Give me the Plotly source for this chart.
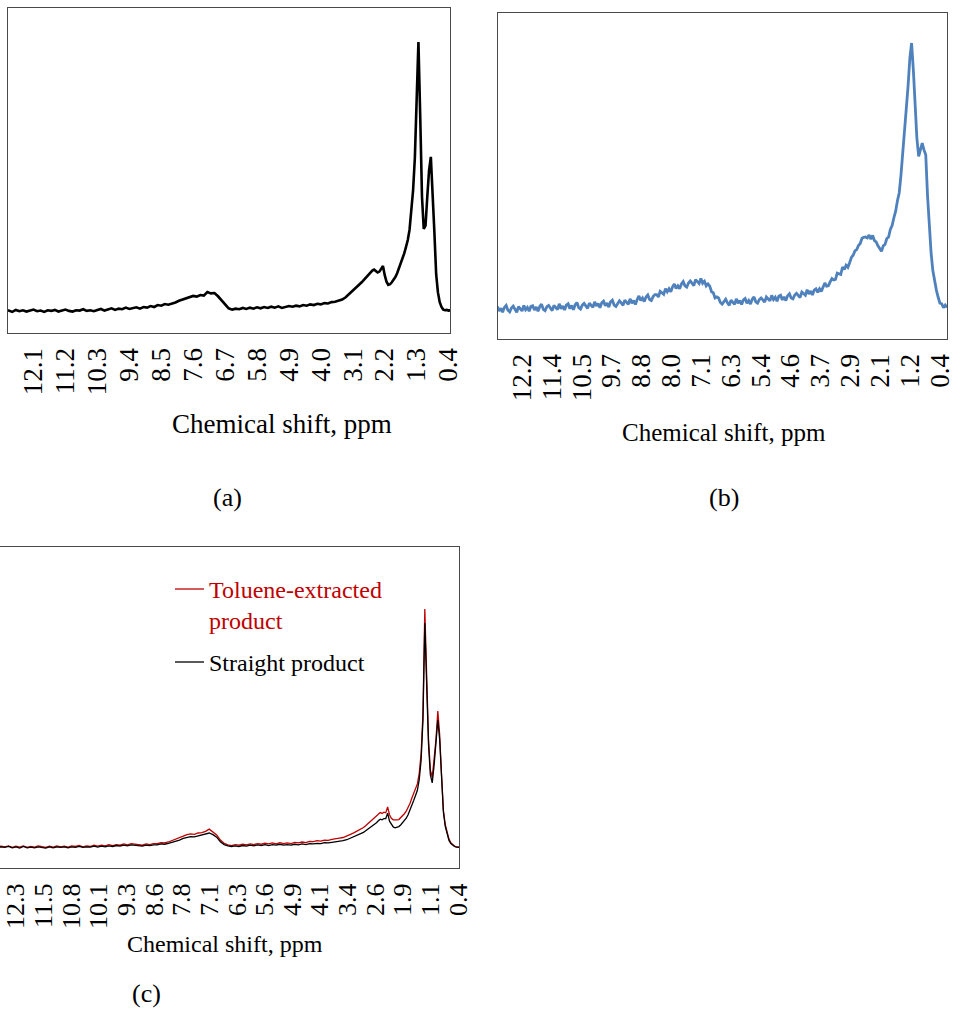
import numpy as np
import plotly.graph_objects as go

# ---------------------------------------------------------------------------
# 1H NMR spectra: intensity (arbitrary units, 0-100) vs chemical shift (ppm)
# ---------------------------------------------------------------------------
shift_ppm = [
    12.9, 12.8, 12.7, 12.6, 12.5, 12.4, 12.3, 12.2, 12.1, 12.0,
    11.9, 11.8, 11.7, 11.6, 11.5, 11.4, 11.3, 11.2, 11.1, 11.0,
    10.9, 10.8, 10.7, 10.6, 10.5, 10.4, 10.3, 10.2, 10.1, 10.0,
    9.9, 9.8, 9.7, 9.6, 9.5, 9.4, 9.3, 9.2, 9.1, 9.0,
    8.9, 8.8, 8.7, 8.6, 8.5, 8.4, 8.3, 8.2, 8.1, 8.0,
    7.9, 7.8, 7.7, 7.6, 7.5, 7.4, 7.3, 7.2, 7.1, 7.0,
    6.9, 6.8, 6.7, 6.6, 6.5, 6.4, 6.3, 6.2, 6.1, 6.0,
    5.9, 5.8, 5.7, 5.6, 5.5, 5.4, 5.3, 5.2, 5.1, 5.0,
    4.9, 4.8, 4.7, 4.6, 4.5, 4.4, 4.3, 4.2, 4.1, 4.0,
    3.9, 3.8, 3.7, 3.6, 3.5, 3.4, 3.3, 3.2, 3.1, 3.0,
    2.95, 2.9, 2.85, 2.8, 2.75, 2.7, 2.65, 2.6, 2.55, 2.5,
    2.45, 2.4, 2.35, 2.3, 2.25, 2.2, 2.15, 2.1, 2.05, 2.0,
    1.95, 1.9, 1.85, 1.8, 1.75, 1.7, 1.65, 1.6, 1.55, 1.5,
    1.45, 1.4, 1.35, 1.3, 1.25, 1.2, 1.15, 1.1, 1.05, 1.0,
    0.95, 0.9, 0.85, 0.8, 0.75, 0.7, 0.65, 0.6, 0.55, 0.5,
    0.45, 0.4, 0.35, 0.3, 0.25, 0.2,
]

# (a) product spectrum
intensity_a = [
    7.0, 6.9, 6.5, 7.1, 6.7, 7.0, 6.6, 6.9, 7.2, 6.7,
    6.9, 6.5, 7.0, 6.8, 7.1, 6.6, 6.9, 7.2, 6.8, 6.6,
    7.0, 6.9, 7.3, 6.8, 7.0, 6.7, 7.1, 7.4, 6.9, 7.2,
    7.6, 7.1, 7.5, 7.3, 7.8, 7.4, 7.7, 7.9, 7.5, 8.0,
    7.8, 8.3, 8.0, 8.6, 8.4, 8.9, 8.7, 9.0, 9.4, 9.9,
    10.3, 10.6, 11.0, 11.4, 11.2, 11.7, 11.5, 12.6, 12.2, 12.3,
    11.3, 10.0, 8.7, 7.6, 7.2, 7.5, 7.3, 7.7, 7.4, 7.8,
    7.5, 7.9, 7.6, 8.0, 7.7, 8.1, 7.8, 8.2, 7.7, 8.0,
    8.3, 8.1, 8.4, 8.2, 8.6, 8.4, 8.8, 8.6, 9.0, 8.8,
    9.2, 9.1, 9.5, 9.6, 9.9, 10.3, 11.0, 12.0, 13.0, 13.8,
    14.3, 14.9, 15.6, 16.2, 16.8, 17.3, 18.2, 18.8, 19.2, 19.5,
    19.0, 18.6, 18.9, 19.8, 20.6, 17.8, 15.8, 14.8, 15.0, 15.6,
    16.3, 17.2, 18.4, 19.8, 21.1, 22.6, 24.5, 26.5, 28.6, 31.8,
    37.5, 44.0, 54.0, 72.0, 89.5, 67.0, 42.0, 32.0, 33.0, 42.0,
    50.0, 54.2, 44.0, 31.0, 18.0, 12.5, 9.5, 8.0, 7.2, 7.0,
    7.1, 6.9, 7.0, 7.1, 6.9, 7.0,
]

# (b) product spectrum, recorded on a denser shift grid
shift_b_ppm = [
    12.9, 12.85, 12.8, 12.75, 12.7, 12.65, 12.6, 12.55, 12.5, 12.45,
    12.4, 12.35, 12.3, 12.25, 12.2, 12.15, 12.1, 12.05, 12.0, 11.95,
    11.9, 11.85, 11.8, 11.75, 11.7, 11.65, 11.6, 11.55, 11.5, 11.45,
    11.4, 11.35, 11.3, 11.25, 11.2, 11.15, 11.1, 11.05, 11.0, 10.95,
    10.9, 10.85, 10.8, 10.75, 10.7, 10.65, 10.6, 10.55, 10.5, 10.45,
    10.4, 10.35, 10.3, 10.25, 10.2, 10.15, 10.1, 10.05, 10.0, 9.95,
    9.9, 9.85, 9.8, 9.75, 9.7, 9.65, 9.6, 9.55, 9.5, 9.45,
    9.4, 9.35, 9.3, 9.25, 9.2, 9.15, 9.1, 9.05, 9.0, 8.95,
    8.9, 8.85, 8.8, 8.75, 8.7, 8.65, 8.6, 8.55, 8.5, 8.45,
    8.4, 8.35, 8.3, 8.25, 8.2, 8.15, 8.1, 8.05, 8.0, 7.95,
    7.9, 7.85, 7.8, 7.75, 7.7, 7.65, 7.6, 7.55, 7.5, 7.45,
    7.4, 7.35, 7.3, 7.25, 7.2, 7.15, 7.1, 7.05, 7.0, 6.95,
    6.9, 6.85, 6.8, 6.75, 6.7, 6.65, 6.6, 6.55, 6.5, 6.45,
    6.4, 6.35, 6.3, 6.25, 6.2, 6.15, 6.1, 6.05, 6.0, 5.95,
    5.9, 5.85, 5.8, 5.75, 5.7, 5.65, 5.6, 5.55, 5.5, 5.45,
    5.4, 5.35, 5.3, 5.25, 5.2, 5.15, 5.1, 5.05, 5.0, 4.95,
    4.9, 4.85, 4.8, 4.75, 4.7, 4.65, 4.6, 4.55, 4.5, 4.45,
    4.4, 4.35, 4.3, 4.25, 4.2, 4.15, 4.1, 4.05, 4.0, 3.95,
    3.9, 3.85, 3.8, 3.75, 3.7, 3.65, 3.6, 3.55, 3.5, 3.45,
    3.4, 3.35, 3.3, 3.25, 3.2, 3.15, 3.1, 3.05, 3.0,
    2.95, 2.9, 2.85, 2.8, 2.75, 2.7, 2.65, 2.6, 2.55, 2.5,
    2.45, 2.4, 2.35, 2.3, 2.25, 2.2, 2.15, 2.1, 2.05, 2.0,
    1.95, 1.9, 1.85, 1.8, 1.75, 1.7, 1.65, 1.6, 1.55, 1.5,
    1.45, 1.4, 1.35, 1.3, 1.25, 1.2, 1.15, 1.1, 1.05, 1.0,
    0.95, 0.9, 0.85, 0.8, 0.75, 0.7, 0.65, 0.6, 0.55, 0.5,
    0.45, 0.4, 0.35, 0.3, 0.25, 0.2,
]

intensity_b = [
    10.0, 8.6, 9.4, 8.2, 9.7, 10.3, 8.8, 8.3, 9.5, 10.1,
    9.1, 8.2, 9.9, 9.3, 8.6, 10.3, 9.0, 9.7, 8.5, 10.0,
    10.2, 8.9, 9.8, 8.5, 10.0, 10.7, 9.1, 8.7, 9.9, 10.3,
    9.6, 8.7, 10.3, 9.8, 9.0, 10.8, 9.3, 10.1, 8.9, 10.4,
    10.8, 9.3, 10.3, 9.0, 10.5, 11.2, 9.6, 9.2, 10.4, 10.9,
    10.2, 9.4, 11.0, 10.4, 9.7, 11.4, 10.1, 10.9, 9.6, 11.1,
    11.6, 10.2, 11.0, 9.8, 11.4, 11.9, 10.4, 10.0, 11.1, 11.7,
    11.1, 10.3, 11.9, 11.3, 10.6, 12.3, 11.0, 11.8, 10.6, 12.1,
    13.2, 11.8, 12.6, 11.5, 12.9, 13.5, 12.1, 11.8, 13.0, 13.6,
    13.6, 12.9, 14.6, 14.2, 13.7, 15.4, 14.5, 15.4, 14.5, 16.0,
    16.9, 15.5, 16.3, 15.4, 16.9, 17.6, 16.3, 15.9, 17.2, 17.8,
    17.1, 16.4, 18.2, 17.6, 17.0, 18.6, 17.1, 17.7, 16.3, 16.9,
    16.2, 14.5, 14.2, 12.6, 12.9, 12.6, 11.2, 10.7, 11.6, 12.2,
    11.1, 10.3, 11.9, 11.3, 10.6, 12.3, 11.0, 11.8, 10.6, 12.0,
    12.4, 11.0, 11.8, 10.7, 12.2, 12.9, 11.4, 11.0, 12.1, 12.6,
    11.9, 11.3, 12.9, 12.3, 11.7, 13.4, 12.1, 12.8, 11.6, 13.1,
    13.4, 12.0, 12.9, 11.8, 13.3, 13.9, 12.6, 12.3, 13.5, 14.0,
    13.3, 12.7, 14.4, 13.9, 13.4, 15.1, 13.8, 14.7, 13.5, 15.0,
    15.4, 14.3, 15.4, 14.6, 16.2, 17.2, 16.2, 16.3, 17.5, 18.5,
    18.1, 18.3, 20.2, 20.0, 19.8, 22.1, 21.3, 22.6, 22.0,
    23.4, 25.0, 25.7, 27.0, 27.4, 28.7, 29.3, 30.9, 31.2, 31.3,
    31.0, 31.9, 30.6, 31.8, 30.2, 29.8, 28.6, 27.9, 26.9, 28.6,
    29.0, 30.8, 31.3, 33.6, 34.8, 37.2, 39.2, 42.4, 44.8, 50.3,
    57.0, 62.5, 70.0, 77.5, 86.0, 90.8, 82.5, 72.4, 61.5, 56.0,
    58.5, 60.1, 58.0, 56.5, 44.0, 33.5, 26.5, 21.0, 17.5, 15.0,
    12.8, 11.0, 10.8, 9.6, 10.4, 9.7,
]

# (c) toluene-extracted product vs straight product
intensity_toluene = [
    6.7, 6.5, 6.8, 6.6, 6.9, 6.4, 6.8, 6.5, 6.9, 6.4,
    6.7, 6.5, 6.9, 6.6, 6.4, 6.8, 6.5, 6.9, 6.6, 6.8,
    6.5, 6.9, 6.7, 7.0, 6.6, 6.9, 6.7, 7.1, 6.8, 7.1,
    6.9, 7.3, 7.0, 7.3, 7.1, 7.5, 7.2, 7.6, 7.4, 7.3,
    7.1, 7.5, 7.3, 7.6, 7.6, 7.9, 7.8, 8.1, 8.5, 8.9,
    9.3, 9.9, 10.4, 10.6, 10.5, 10.9, 11.0, 11.4, 12.1, 11.3,
    10.3, 8.7, 7.7, 7.2, 7.0, 7.3, 7.1, 7.4, 7.2, 7.5,
    7.3, 7.6, 7.4, 7.7, 7.5, 7.8, 7.5, 7.9, 7.6, 7.8,
    7.6, 8.0, 7.8, 8.1, 7.9, 8.3, 8.2, 8.5, 8.4, 8.7,
    8.6, 8.9, 9.0, 9.3, 9.5, 9.9, 10.5, 11.0, 11.6, 12.3,
    12.6, 13.1, 13.6, 14.2, 14.8, 15.3, 15.8, 16.2, 16.8, 17.3,
    17.0, 17.4, 17.2, 19.0, 16.6, 15.5, 15.0, 14.9, 15.0, 15.1,
    15.6, 16.2, 16.9, 17.7, 18.8, 20.1, 21.7, 23.4, 24.8, 26.2,
    29.5, 35.5, 48.0, 80.7, 60.0, 40.0, 30.5, 28.3, 34.0, 40.0,
    48.9, 41.5, 29.0, 18.0, 13.5, 10.9, 9.0, 7.9, 7.2, 6.8,
    6.6, 6.5, 6.6, 6.5, 6.6, 6.5,
]

intensity_straight = [
    6.5, 6.3, 6.6, 6.4, 6.7, 6.3, 6.6, 6.2, 6.7, 6.3,
    6.5, 6.3, 6.6, 6.4, 6.2, 6.6, 6.3, 6.6, 6.4, 6.6,
    6.3, 6.6, 6.4, 6.7, 6.4, 6.6, 6.5, 6.8, 6.5, 6.8,
    6.6, 6.9, 6.7, 7.0, 6.8, 7.1, 6.9, 7.2, 7.0, 6.9,
    6.8, 7.1, 7.0, 7.2, 7.2, 7.5, 7.4, 7.7, 8.0, 8.4,
    8.7, 9.2, 9.6, 9.8, 9.7, 10.0, 10.1, 10.4, 10.9, 10.4,
    9.6, 8.2, 7.3, 6.9, 6.7, 6.9, 6.7, 7.0, 6.8, 7.1,
    6.9, 7.2, 7.0, 7.3, 7.0, 7.3, 7.1, 7.4, 7.1, 7.3,
    7.1, 7.4, 7.2, 7.5, 7.3, 7.6, 7.5, 7.7, 7.6, 7.9,
    7.8, 8.0, 8.1, 8.3, 8.5, 8.8, 9.3, 9.7, 10.2, 10.8,
    11.1, 11.5, 11.9, 12.4, 12.9, 13.3, 13.7, 14.1, 14.7, 15.2,
    15.0, 15.4, 15.4, 17.1, 14.6, 13.5, 12.8, 12.5, 12.6, 12.9,
    13.4, 14.0, 14.7, 15.5, 16.6, 17.9, 19.4, 21.0, 22.6, 24.2,
    27.5, 33.5, 46.0, 76.3, 57.0, 38.5, 29.0, 26.5, 32.0, 38.5,
    46.1, 40.0, 28.0, 17.5, 13.0, 10.5, 8.6, 7.6, 7.0, 6.7,
    6.5, 6.4, 6.5, 6.4, 6.5, 6.4,
]

for series in (intensity_a, intensity_toluene, intensity_straight):
    assert len(series) == len(shift_ppm)
assert len(intensity_b) == len(shift_b_ppm)

# Tick labels of each shift axis
ticks_a = ["12.1", "11.2", "10.3", "9.4", "8.5", "7.6", "6.7",
           "5.8", "4.9", "4.0", "3.1", "2.2", "1.3", "0.4"]
ticks_b = ["12.2", "11.4", "10.5", "9.7", "8.8", "8.0", "7.1", "6.3",
           "5.4", "4.6", "3.7", "2.9", "2.1", "1.2", "0.4"]
ticks_c = ["12.3", "11.5", "10.8", "10.1", "9.3", "8.6", "7.8", "7.1", "6.3",
           "5.6", "4.9", "4.1", "3.4", "2.6", "1.9", "1.1", "0.4"]

legend_names = ["Toluene-extracted<br>product", "Straight product"]
axis_title = "Chemical shift, ppm"

# ---------------------------------------------------------------------------
W, H = 960, 1009
FONT = "Liberation Serif"
BOX = "#4a4a4a"
BLUE = "#4F81BD"
RED = "#C00000"


def fx(px):
    return px / W


def fy(py):
    return 1 - py / H


def tick_positions(labels):
    # ticks are evenly spaced between the first and last labelled shifts
    return list(np.linspace(float(labels[0]), float(labels[-1]), len(labels)))


fig = go.Figure()

fig.add_trace(go.Scatter(x=shift_ppm, y=intensity_a, mode="lines",
                         line=dict(color="black", width=2.6),
                         xaxis="x", yaxis="y", showlegend=False))
fig.add_trace(go.Scatter(x=shift_b_ppm, y=intensity_b, mode="lines",
                         line=dict(color=BLUE, width=2.8),
                         xaxis="x2", yaxis="y2", showlegend=False))
fig.add_trace(go.Scatter(x=shift_ppm, y=intensity_toluene, mode="lines",
                         name=legend_names[0],
                         line=dict(color=RED, width=1.3),
                         xaxis="x3", yaxis="y3", showlegend=False))
fig.add_trace(go.Scatter(x=shift_ppm, y=intensity_straight, mode="lines",
                         name=legend_names[1],
                         line=dict(color="black", width=1.3),
                         xaxis="x3", yaxis="y3", showlegend=False))


def xaxis(domain, rng, labels, size, anchor, standoff):
    return dict(domain=domain, range=rng, autorange=False, anchor=anchor,
                automargin=False,
                showgrid=False, zeroline=False, showline=True, mirror=True,
                linecolor=BOX, linewidth=1.3,
                tickmode="array", tickvals=tick_positions(labels), ticktext=labels,
                tickangle=-90, ticks="", ticklabelstandoff=standoff,
                ticklabeloverflow="allow",
                tickfont=dict(family=FONT, size=size, color="black"))


def yaxis(domain, anchor, **kw):
    d = dict(domain=domain, range=[0, 100], autorange=False, anchor=anchor,
             automargin=False,
             showgrid=False, zeroline=False, showticklabels=False, ticks="",
             showline=True, mirror=True, linecolor=BOX, linewidth=1.3)
    d.update(kw)
    return d


fig.update_layout(
    width=W, height=H, autosize=False,
    margin=dict(l=0, r=0, t=0, b=0, pad=0, autoexpand=False),
    paper_bgcolor="white", plot_bgcolor="white",
    showlegend=False,
    xaxis=xaxis([fx(8), fx(450)], [12.82, 0.36], ticks_a, 27, "y", 3),
    yaxis=yaxis([fy(333), fy(8)], "x"),
    xaxis2=xaxis([fx(498), fx(947)], [12.88, 0.2], ticks_b, 27, "y2", 3),
    yaxis2=yaxis([fy(339), fy(13)], "x2"),
    xaxis3=xaxis([fx(0), fx(459)], [12.73, 0.38], ticks_c, 26, "y3", 4),
    yaxis3=yaxis([fy(868), fy(547)], "x3", side="right", mirror=False),
)

annotations = [
    dict(x=fx(282), y=fy(424), text=axis_title, font=dict(family=FONT, size=27)),
    dict(x=fx(724), y=fy(432), text=axis_title, font=dict(family=FONT, size=25)),
    dict(x=fx(225), y=fy(944), text=axis_title, font=dict(family=FONT, size=24)),
    dict(x=fx(227), y=fy(497), text="(a)", font=dict(family=FONT, size=26)),
    dict(x=fx(724), y=fy(497), text="(b)", font=dict(family=FONT, size=26)),
    dict(x=fx(146), y=fy(993), text="(c)", font=dict(family=FONT, size=26)),
]
for a in annotations:
    a.update(xref="paper", yref="paper", showarrow=False,
             xanchor="center", yanchor="middle")
    a["font"]["color"] = "black"

# legend of panel (c)
legend_rows = [
    (legend_names[0].split("<br>")[0], RED, 590, True),
    (legend_names[0].split("<br>")[1], RED, 621, False),
    (legend_names[1], "black", 663, True),
]
shapes = []
for text, color, ypx, with_key in legend_rows:
    annotations.append(dict(x=fx(207), y=fy(ypx), xref="paper", yref="paper",
                            text=text, showarrow=False, xanchor="left",
                            yanchor="middle",
                            font=dict(family=FONT, size=24, color=color)))
    if with_key:
        shapes.append(dict(type="line", xref="paper", yref="paper",
                           x0=fx(175), x1=fx(204), y0=fy(ypx - 1), y1=fy(ypx - 1),
                           line=dict(color=color, width=1.3)))

fig.update_layout(annotations=annotations, shapes=shapes)

fig.write_html("out.html", config={"responsive": False})
